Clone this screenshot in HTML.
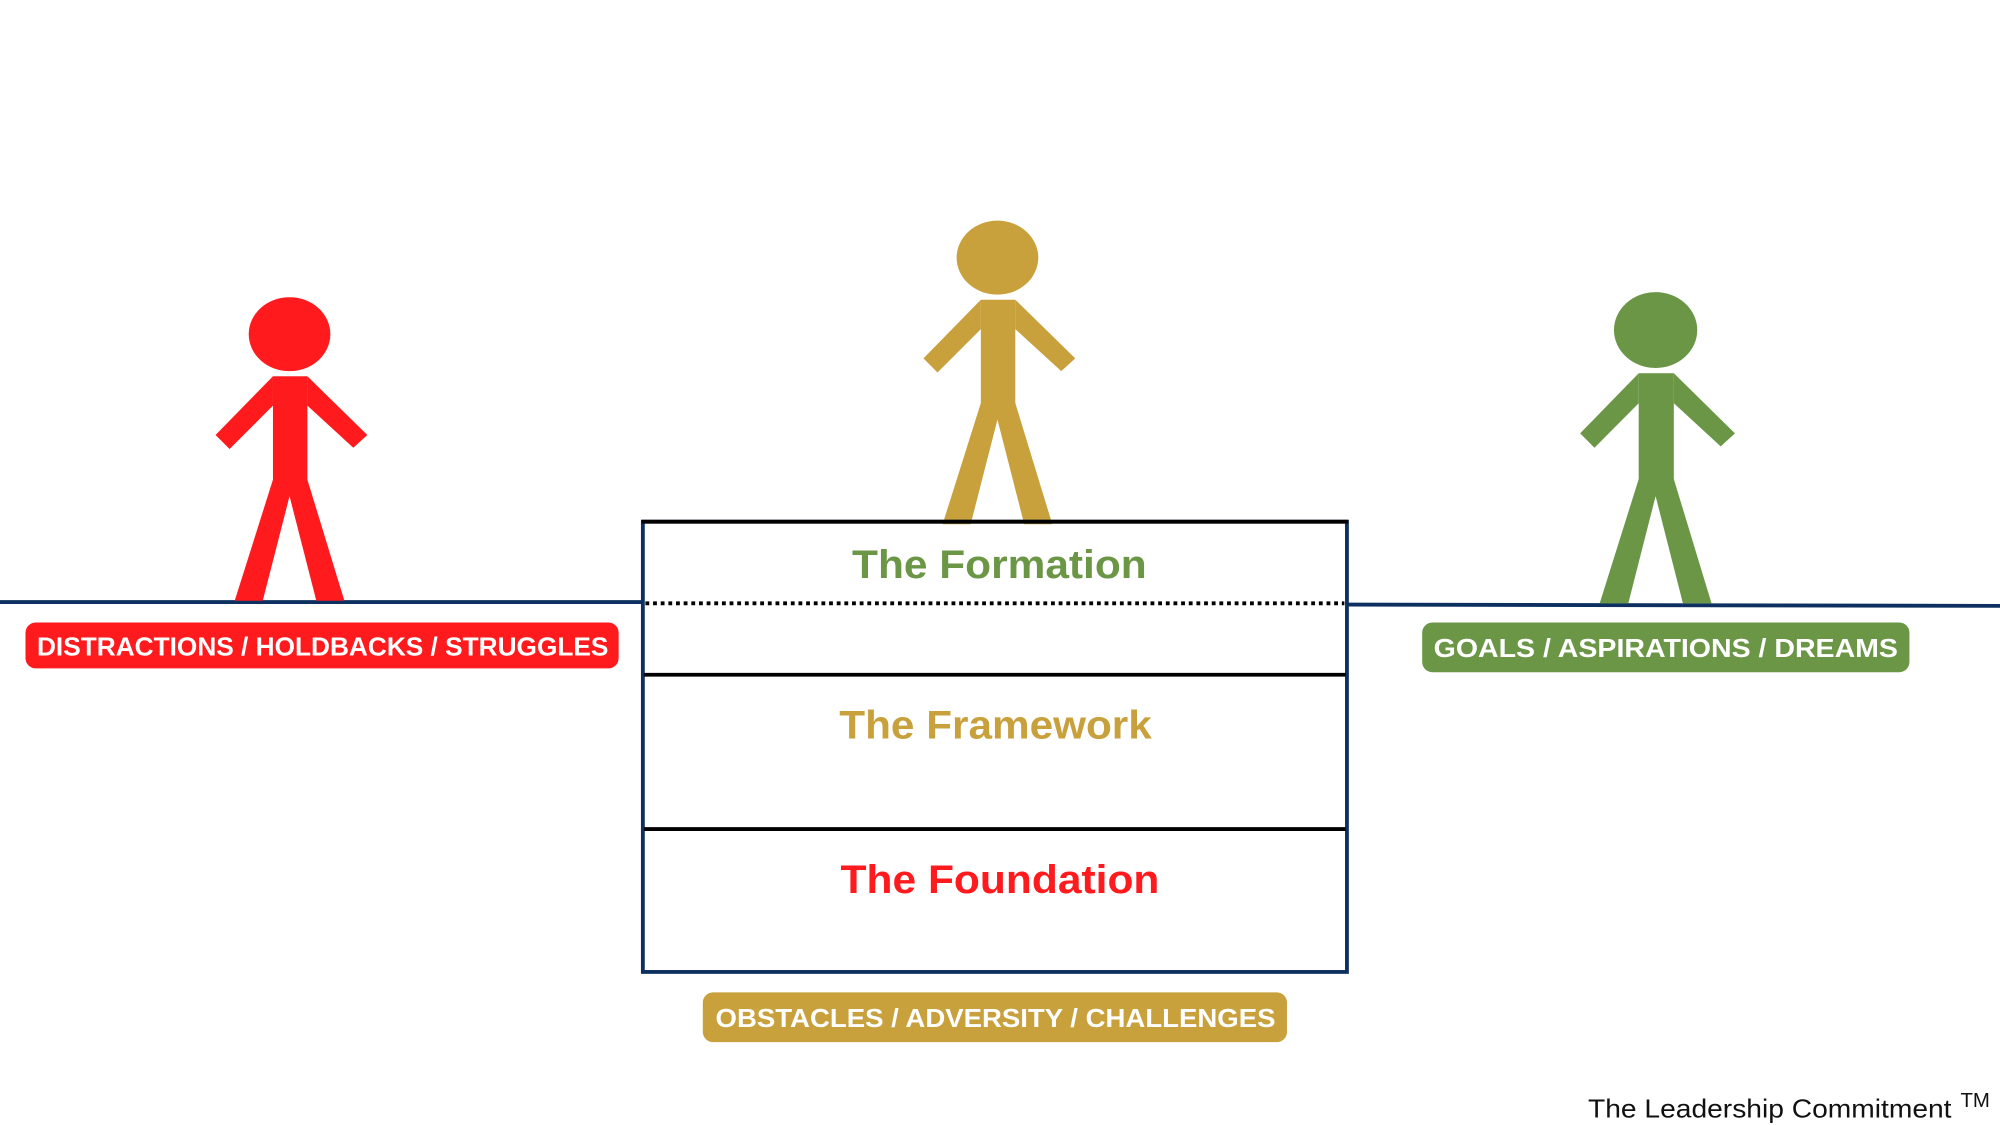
<!DOCTYPE html>
<html><head><meta charset="utf-8"><style>html,body{margin:0;padding:0;background:#fff}svg{display:block}</style></head>
<body>
<svg width="2000" height="1125" viewBox="0 0 1568 882" xmlns="http://www.w3.org/2000/svg">
<defs>
<g id="fig">
<ellipse cx="227" cy="262" rx="32" ry="29"/>
<rect x="214" y="295" width="27" height="84"/>
<polygon points="214,295 169,341 180,352 214,318"/>
<polygon points="241,295 288,341 277,351 241,318"/>
<polygon points="214,376 241,376 270,471 248,471 227,389 206,471 184,471"/>
</g>
</defs>
<line x1="0" y1="472" x2="505" y2="472" stroke="#0d3060" stroke-width="3"/>
<line x1="1056" y1="474" x2="1568" y2="475" stroke="#0d3060" stroke-width="3"/>
<use href="#fig" fill="#ff1a1e"/>
<use href="#fig" fill="#c8a03c" transform="translate(555,-60)"/>
<use href="#fig" fill="#6a9646" transform="translate(1298,473) scale(1.02,1.025) translate(-227,-471)"/>
<rect x="504" y="409" width="552" height="353" fill="none" stroke="#0d3060" stroke-width="3"/>
<line x1="503" y1="409" x2="1057" y2="409" stroke="#000" stroke-width="3"/>
<line x1="506" y1="473" x2="1054" y2="473" stroke="#000" stroke-width="3" stroke-dasharray="3,3"/>
<line x1="505" y1="529" x2="1055" y2="529" stroke="#000" stroke-width="3"/>
<line x1="505" y1="650" x2="1055" y2="650" stroke="#000" stroke-width="3"/>
<g font-family="Liberation Sans, sans-serif" font-weight="bold">
<text x="668" y="453" font-size="31" fill="#6a9646" textLength="231" lengthAdjust="spacingAndGlyphs">The Formation</text>
<text x="658" y="579" font-size="31" fill="#c8a03c" textLength="245" lengthAdjust="spacingAndGlyphs">The Framework</text>
<text x="659" y="700" font-size="31" fill="#ff1a1e" textLength="250" lengthAdjust="spacingAndGlyphs">The Foundation</text>
<rect x="20" y="488" width="465" height="36" rx="8" fill="#ff1a1e"/>
<text x="29" y="514" font-size="20" fill="#fff" textLength="448" lengthAdjust="spacingAndGlyphs">DISTRACTIONS / HOLDBACKS / STRUGGLES</text>
<rect x="1115" y="488" width="382" height="39" rx="8" fill="#6a9646"/>
<text x="1124" y="515" font-size="20" fill="#fff" textLength="364" lengthAdjust="spacingAndGlyphs">GOALS / ASPIRATIONS / DREAMS</text>
<rect x="551" y="778" width="458" height="39" rx="8" fill="#c8a03c"/>
<text x="561" y="805" font-size="20" fill="#fff" textLength="439" lengthAdjust="spacingAndGlyphs">OBSTACLES / ADVERSITY / CHALLENGES</text>
</g>
<text x="1245" y="876" font-family="Liberation Sans, sans-serif" font-size="20" fill="#111" textLength="285" lengthAdjust="spacingAndGlyphs">The Leadership Commitment</text>
<text x="1537" y="868" font-family="Liberation Sans, sans-serif" font-size="16" fill="#111">TM</text>
</svg>
</body></html>
